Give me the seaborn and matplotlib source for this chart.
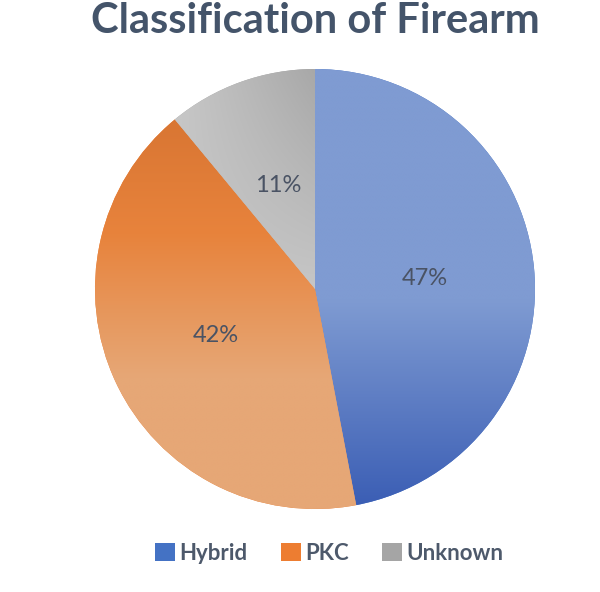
import matplotlib
matplotlib.use("Agg")
import matplotlib.pyplot as plt
import numpy as np
import seaborn as sns
from matplotlib.colors import to_rgb
from matplotlib.patches import Patch

# data
categories = ["Hybrid", "PKC", "Unknown"]
shares = [47, 42, 11]
base_colors = ["#4472c4", "#ed7d31", "#a5a5a5"]

sns.set_theme(style="white")
plt.rcParams["font.family"] = ["Lato", "DejaVu Sans"]

fig = plt.figure(figsize=(6, 5.92), dpi=100)
R = 220
cx, cy = 315, 289
ax = fig.add_axes([(cx - R) / 600, (592 - cy - R) / 592, 2 * R / 600, 2 * R / 592])

wedges, texts, autotexts = ax.pie(
    shares, colors=base_colors, startangle=90, counterclock=False,
    autopct="%1.0f%%", pctdistance=0.5, wedgeprops=dict(linewidth=0),
    textprops=dict(fontsize=17, color="#4a5364"),
)
ax.set_xlim(-1, 1)
ax.set_ylim(-1, 1)
ax.set_aspect("equal")


# gradient fills clipped to each wedge
n = 400
xs = np.linspace(-1, 1, n)
ys = np.linspace(1, -1, n)
X, Y = np.meshgrid(xs, ys)


def ramp(vals, stops):
    pos = [s[0] for s in stops][::-1]
    cols = np.array([to_rgb(s[1]) for s in stops])[::-1]
    out = np.zeros(vals.shape + (3,))
    for k in range(3):
        out[..., k] = np.interp(vals, pos, cols[:, k])
    return out


grad_hybrid = ramp(Y, [(1, "#7f9bd2"), (-0.05, "#7f9bd2"), (-1, "#3a5db4")])
grad_pkc = ramp(Y, [(1, "#d2702f"), (0.25, "#e8833c"), (-0.4, "#e6a776"), (-1, "#e6a776")])
t = np.clip((X + 0.6) / 0.6, 0, 1) * np.clip(Y, 0, 1)
c0, c1 = np.array(to_rgb("#c6c6c6")), np.array(to_rgb("#a8a8a8"))
grad_unknown = c0 + (c1 - c0) * t[..., None]

for w, img in zip(wedges, [grad_hybrid, grad_pkc, grad_unknown]):
    im = ax.imshow(img, extent=[-1, 1, -1, 1], zorder=w.get_zorder() + 0.5, interpolation="bilinear")
    im.set_clip_path(w)
for tx in autotexts:
    tx.set_zorder(5)

fig.text(0.526, 0.997, "Classification of Firearm", ha="center", va="top",
         fontsize=30, fontweight="bold", color="#44546a")

handles = [Patch(facecolor=c, edgecolor="none") for c in base_colors]
leg = fig.legend(handles, categories, loc="center", ncol=3, frameon=False,
                 handlelength=0.9, handleheight=0.9, handletextpad=0.2, columnspacing=1.5,
                 labelcolor="#4d596b", prop=dict(weight="bold", size=16))
leg.set_bbox_to_anchor((0.549, (592 - 553) / 592), transform=fig.transFigure)

fig.savefig("out.png", dpi=100)
